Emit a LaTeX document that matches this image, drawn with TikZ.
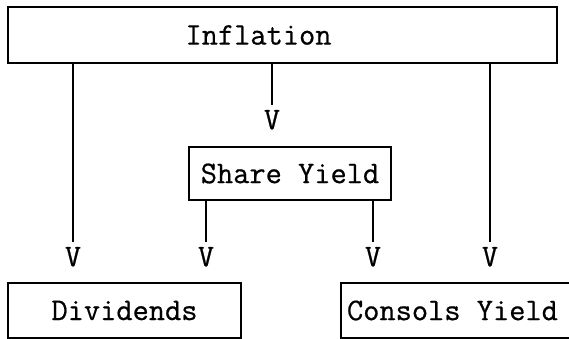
\documentclass[tikz,border=0pt]{standalone}
\usepackage{fontspec}
\newfontfamily\cour{Latin Modern Mono}[FakeBold=0.6]
\begin{document}
\begin{tikzpicture}[x=1pt,y=-1pt,
  box/.style={draw, line width=1.5pt, inner sep=0pt, font=\cour\fontsize{31.5}{34}\selectfont},
  tip/.style={inner sep=0pt, outer ysep=5pt, anchor=north, font=\cour\fontsize{31.5}{34}\selectfont},
  link/.style={line width=1.5pt}]
\path[use as bounding box, clip] (0,0) rectangle (569,339);
\node[box, minimum width=549pt, minimum height=56pt] (infl) at (282.5,35) {\hspace*{-48pt}Inflation};
\node[box, minimum width=202pt, minimum height=53pt] (share) at (290,173.5) {Share Yield};
\node[box, minimum width=233pt, minimum height=55pt] (div) at (124.5,310.5) {Dividends};
\node[box, minimum height=55pt, inner xsep=6pt] (cons) at (461,310.5) {\makebox[228pt][l]{Consols Yield}};
\node[tip] (vM) at (272,105) {V};
\node[tip] (vL) at (73,242) {V};
\node[tip] (vS1) at (206,242) {V};
\node[tip] (vS2) at (373,242) {V};
\node[tip] (vR) at (490,242) {V};
\draw[link] (infl.south -| vM.north) -- (vM.north);
\draw[link] (infl.south -| vL.north) -- (vL.north);
\draw[link] (infl.south -| vR.north) -- (vR.north);
\draw[link] (share.south -| vS1.north) -- (vS1.north);
\draw[link] (share.south -| vS2.north) -- (vS2.north);
\end{tikzpicture}
\end{document}
